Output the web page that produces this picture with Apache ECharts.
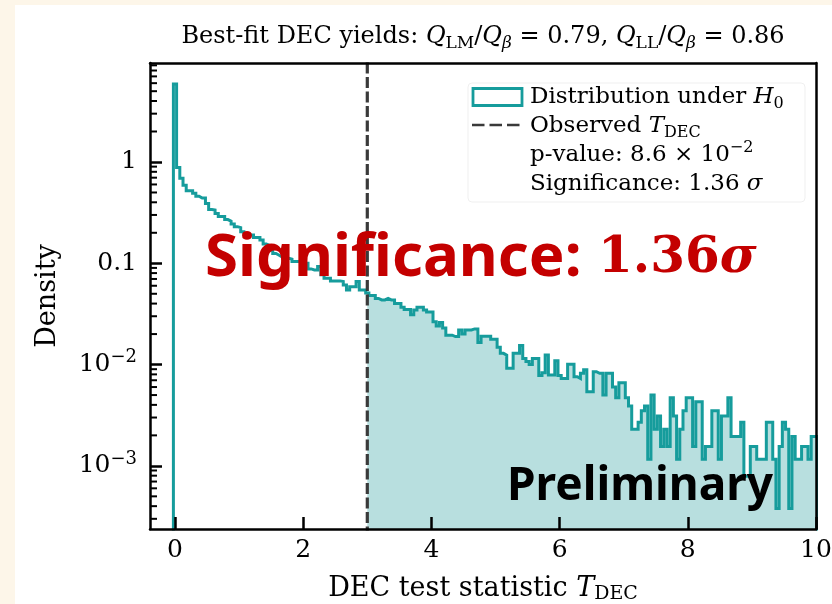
<!DOCTYPE html>
<html>
<head>
<meta charset="utf-8">
<script src="https://cdn.jsdelivr.net/npm/echarts@6/dist/echarts.min.js"></script>
<style>
  html, body { margin: 0; padding: 0; background: #fdf6e9; }
  #panel { position: absolute; left: 15px; top: 5px; width: 817px; height: 599px; background: #ffffff; }
  #chart { position: absolute; left: 0; top: 0; width: 832px; height: 604px; }
</style>
</head>
<body>
<div id="panel"></div>
<div id="chart"></div>
<script>
// Histogram of the DEC test statistic under H0 (density per bin).
const binWidth = 0.05;
const firstEdge = -0.025;
const density = [
  5.9,
  0.88, 0.69, 0.59, 0.52, 0.52, 0.49, 0.46, 0.44, 0.44, 0.39,
  0.34, 0.336, 0.31, 0.29, 0.29, 0.27, 0.26, 0.244, 0.23, 0.225,
  0.205, 0.195, 0.19, 0.19, 0.18, 0.18, 0.17, 0.155, 0.15, 0.135,
  0.125, 0.12, 0.115, 0.118, 0.112, 0.11, 0.104, 0.104, 0.107, 0.100,
  0.100, 0.088, 0.086, 0.086, 0.093, 0.077, 0.071, 0.071, 0.067, 0.067,
  0.067, 0.066, 0.061, 0.0545, 0.0587, 0.0587, 0.066, 0.0545, 0.0545, 0.051,
  0.048, 0.048, 0.045, 0.0435, 0.0435, 0.045, 0.0435, 0.0435, 0.040, 0.040,
  0.0368, 0.035, 0.035, 0.031, 0.0346, 0.0368, 0.0368, 0.0346, 0.033, 0.033,
  0.0265, 0.024, 0.026, 0.023, 0.0195, 0.0195, 0.0189, 0.0189, 0.022, 0.020,
  0.022, 0.022, 0.0225, 0.0225, 0.0165, 0.019, 0.019, 0.019, 0.0178, 0.0178,
  0.0148, 0.0129, 0.0124, 0.0092, 0.0092, 0.0129, 0.0129, 0.0154, 0.0115, 0.0107,
  0.0100, 0.0115, 0.0115, 0.0078, 0.0083, 0.0124, 0.0079, 0.0079, 0.0109, 0.0078,
  0.0073, 0.0073, 0.0101, 0.0101, 0.0076, 0.0073, 0.0082, 0.0089, 0.0054, 0.0054,
  0.0085, 0.0082, 0.0082, 0.0050, 0.0082, 0.0082, 0.0060, 0.0047, 0.0066, 0.0066,
  0.0047, 0.0039, 0.0023, 0.0023, 0.0027, 0.0035, 0.0039, 0.00116, 0.0050, 0.0023,
  0.0031, 0.00155, 0.0023, 0.00155, 0.0047, 0.0031, 0.00116, 0.0023, 0.0035, 0.0047,
  0.0047, 0.00155, 0.0043, 0.0043, 0.00116, 0.00155, 0.00155, 0.0035, 0.0035, 0.00116,
  0.0031, 0.0031, 0.0047, 0.00195, 0.00195, 0.00195, 0.0027, 0.00079, 0.00079, 0.00155,
  0.00155, 0.00116, 0.00116, 0.00116, 0.0027, 0.0027, 0.00116, 0.00038, 0.00155, 0.0027,
  0.0023, 0.00038, 0.00195, 0.00116, 0.00116, 0.00155, 0.00155, 0.00116, 0.00195, 0.00195
];
const observedT = 3.0;

// Axis ranges and ticks
const xRange = [-0.39, 10];
const yRange = [2.38e-4, 9.49];
const xTicks = [0, 2, 4, 6, 8, 10];
const yTicks = [0.001, 0.01, 0.1, 1];
const yTickLabels = ['10^−3', '10^−2', '0.1', '1'];
const minorMantissas = [2, 3, 4, 5, 6, 7, 8, 9];
const decades = [-4, -3, -2, -1, 0];

const serif = '"DejaVu Serif", serif';
const teal = '#169c9c';
const tealFill = '#b8dfdf';
const below = 1e-7; // below the visible range, clipped by the grid

// Step outline of the histogram
const outline = [[firstEdge, below]];
density.forEach((v, i) => {
  const a = firstEdge + i * binWidth;
  outline.push([a, v], [a + binWidth, v]);
});
outline.push([firstEdge + density.length * binWidth, below]);

// Shaded tail beyond the observed value
const tail = [];
density.forEach((v, i) => {
  const a = firstEdge + i * binWidth;
  const b = a + binWidth;
  if (b <= observedT) return;
  tail.push([Math.max(a, observedT), v], [b, v]);
});

// Minor ticks of the log axis
const minorTicks = [];
decades.forEach(e => minorMantissas.forEach(m => {
  const v = m * Math.pow(10, e);
  if (v > yRange[0] && v < yRange[1]) minorTicks.push([xRange[0], v]);
}));

function richSet(size, sub) {
  return {
    n: { fontFamily: serif, fontSize: size, lineHeight: 30, fill: '#000' },
    i: { fontFamily: serif, fontSize: size, fontStyle: 'italic', lineHeight: 30, fill: '#000' },
    s: { fontFamily: serif, fontSize: sub, verticalAlign: 'bottom', fill: '#000' },
    si: { fontFamily: serif, fontSize: sub, fontStyle: 'italic', verticalAlign: 'bottom', fill: '#000' },
    p: { fontFamily: serif, fontSize: sub, verticalAlign: 'top', fill: '#000' }
  };
}

const chart = echarts.init(document.getElementById('chart'), null, { renderer: 'canvas' });

const axisLineStyle = { color: '#000', width: 2.5 };

chart.setOption({
  animation: false,
  backgroundColor: 'transparent',
  grid: { left: 150, top: 63, width: 666, height: 466, outerBoundsMode: 'none' },
  xAxis: [{
    type: 'value', min: xRange[0], max: xRange[1], z: 10,
    axisLine: { show: true, onZero: false, lineStyle: axisLineStyle },
    axisTick: { show: true, inside: true, length: 12, lineStyle: { color: '#000', width: 2.5 }, customValues: xTicks },
    axisLabel: { show: true, customValues: xTicks, margin: 9, fontFamily: serif, fontSize: 25, color: '#000' },
    splitLine: { show: false }
  }, {
    type: 'value', position: 'top', min: xRange[0], max: xRange[1], z: 10,
    axisLine: { show: true, onZero: false, lineStyle: axisLineStyle },
    axisTick: { show: false }, axisLabel: { show: false }, splitLine: { show: false }
  }],
  yAxis: [{
    type: 'log', min: yRange[0], max: yRange[1], z: 10,
    axisLine: { show: true, onZero: false, lineStyle: axisLineStyle },
    axisTick: { show: true, inside: true, length: 12, lineStyle: { color: '#000', width: 2.5 }, customValues: yTicks },
    axisLabel: {
      show: true, customValues: yTicks, margin: 13, color: '#000',
      formatter: (v) => {
        const idx = yTicks.findIndex(t => Math.abs(t - v) / t < 1e-6);
        const s = idx >= 0 ? yTickLabels[idx] : '';
        if (s.indexOf('^') >= 0) {
          const parts = s.split('^');
          return '{b|' + parts[0] + '}{e|' + parts[1] + '}';
        }
        return '{b|' + s + '}';
      },
      rich: {
        b: { fontFamily: serif, fontSize: 25, color: '#000', lineHeight: 32 },
        e: { fontFamily: serif, fontSize: 18, color: '#000', verticalAlign: 'top' }
      }
    },
    splitLine: { show: false }, minorTick: { show: false }
  }, {
    type: 'value', position: 'right', min: 0, max: 1, z: 10,
    axisLine: { show: true, onZero: false, lineStyle: axisLineStyle },
    axisTick: { show: false }, axisLabel: { show: false }, splitLine: { show: false }
  }],
  series: [{
    name: 'tail', type: 'line', data: tail, z: 2,
    symbol: 'none', showSymbol: false, silent: true, clip: true,
    lineStyle: { width: 0, color: tealFill },
    areaStyle: { color: tealFill, opacity: 1, origin: 'start' }
  }, {
    name: 'Distribution under H0', type: 'line', data: outline, z: 3,
    symbol: 'none', showSymbol: false, silent: true, clip: true,
    lineStyle: { width: 3, color: teal, join: 'miter' }
  }, {
    name: 'Observed T_DEC', type: 'line', data: [[observedT, below], [observedT, 1000]], z: 4,
    symbol: 'none', showSymbol: false, silent: true, clip: true,
    lineStyle: { width: 3.2, color: '#3a3a3a', type: [11, 3.5] }
  }, {
    name: 'minor ticks', type: 'custom', data: minorTicks, z: 11, silent: true, clip: false,
    renderItem: (params, api) => {
      const p = api.coord([api.value(0), api.value(1)]);
      return { type: 'line', shape: { x1: p[0], y1: p[1], x2: p[0] + 7, y2: p[1] },
               style: { stroke: '#000', lineWidth: 2 } };
    }
  }],
  graphic: [
    // title
    { type: 'text', x: 483, y: 37, z: 50, silent: true,
      style: { text: '{n|Best-fit DEC yields: }{i|Q}{s|LM}{n|/}{i|Q}{si|β}{n| = 0.79, }{i|Q}{s|LL}{n|/}{i|Q}{si|β}{n| = 0.86}',
               textAlign: 'center', textVerticalAlign: 'middle', rich: richSet(24, 17) } },
    // axis titles
    { type: 'text', x: 483, y: 589, z: 50, silent: true,
      style: { text: '{n|DEC test statistic }{i|T}{s|DEC}', textAlign: 'center', textVerticalAlign: 'middle',
               rich: richSet(27, 19) } },
    { type: 'text', x: 48, y: 296, rotation: Math.PI / 2, z: 50, silent: true,
      style: { text: 'Density', font: '27px ' + serif, fill: '#000', textAlign: 'center', textVerticalAlign: 'middle' } },
    // legend box
    { type: 'rect', z: 40, silent: true, shape: { x: 468, y: 83, width: 337, height: 119, r: 4 },
      style: { fill: 'rgba(255,255,255,0.85)', stroke: '#efefef', lineWidth: 1 } },
    { type: 'rect', z: 41, silent: true, shape: { x: 473, y: 88.5, width: 49, height: 17 },
      style: { fill: '#fff', stroke: teal, lineWidth: 2.8 } },
    { type: 'line', z: 41, silent: true, shape: { x1: 472, y1: 125, x2: 522, y2: 125 },
      style: { stroke: '#3a3a3a', lineWidth: 2.6, lineDash: [12.5, 5] } },
    { type: 'text', x: 530, y: 97, z: 42, silent: true,
      style: { text: '{n|Distribution under }{i|H}{s|0}', textAlign: 'left', textVerticalAlign: 'middle', rich: richSet(23, 16) } },
    { type: 'text', x: 530, y: 126, z: 42, silent: true,
      style: { text: '{n|Observed }{i|T}{s|DEC}', textAlign: 'left', textVerticalAlign: 'middle', rich: richSet(23, 16) } },
    { type: 'text', x: 530, y: 155, z: 42, silent: true,
      style: { text: '{n|p-value: 8.6 × 10}{p|−2}', textAlign: 'left', textVerticalAlign: 'middle', rich: richSet(23, 16) } },
    { type: 'text', x: 530, y: 184, z: 42, silent: true,
      style: { text: '{n|Significance: 1.36 }{i|σ}', textAlign: 'left', textVerticalAlign: 'middle', rich: richSet(23, 16) } },
    // annotations
    { type: 'text', x: 205, y: 259, z: 60, silent: true,
      style: { text: 'Significance:', font: 'bold 60px "Noto Sans", sans-serif', fill: '#c40000',
               textAlign: 'left', textVerticalAlign: 'middle' } },
    { type: 'text', x: 598, y: 259, z: 60, silent: true,
      style: { text: '{d|1.36}{g|σ}', textAlign: 'left', textVerticalAlign: 'middle',
               rich: { d: { fontFamily: serif, fontWeight: 'bold', fontSize: 50, fill: '#c40000' },
                       g: { fontFamily: serif, fontWeight: 'bold', fontStyle: 'italic', fontSize: 50, fill: '#c40000' } } } },
    { type: 'text', x: 507, y: 487, z: 60, silent: true,
      style: { text: 'Preliminary', font: 'bold 46px "Noto Sans", sans-serif', fill: '#000',
               textAlign: 'left', textVerticalAlign: 'middle' } }
  ]
});
</script>
</body>
</html>
